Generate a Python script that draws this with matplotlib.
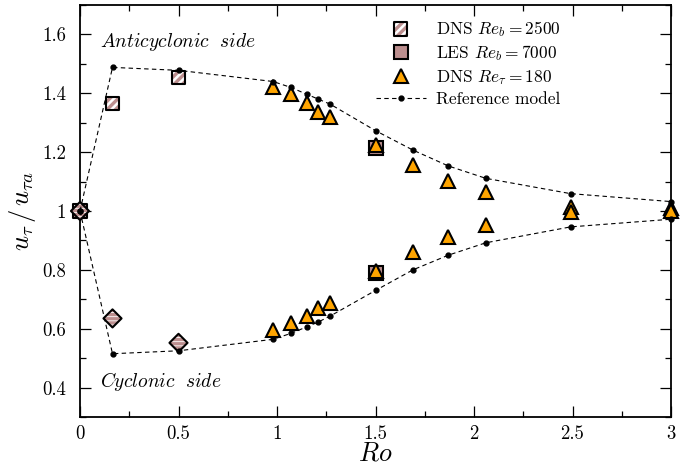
import matplotlib
matplotlib.use("Agg")
import matplotlib.pyplot as plt

plt.rcParams['font.family'] = 'serif'
plt.rcParams['font.serif'] = ['cmr10', 'DejaVu Serif']
plt.rcParams['mathtext.fontset'] = 'cm'
plt.rcParams['axes.formatter.use_mathtext'] = True
plt.rcParams['hatch.linewidth'] = 2.4

# Reference model
ref_ro = [0.0, 0.165, 0.5, 0.98, 1.07, 1.15, 1.21, 1.27, 1.5, 1.69, 1.87, 2.06, 2.49, 3.0]
ref_anti = [1.0, 1.488, 1.478, 1.44, 1.42, 1.397, 1.38, 1.363, 1.273, 1.207, 1.153, 1.111, 1.059, 1.032]
ref_cyc = [1.0, 0.515, 0.525, 0.564, 0.584, 0.606, 0.623, 0.643, 0.73, 0.80, 0.85, 0.892, 0.946, 0.972]

# DNS Re_b = 2500
dns2500_ro = [0.0, 0.165, 0.5]
dns2500_anti = [1.0, 1.366, 1.453]
dns2500_cyc = [1.0, 0.635, 0.552]

# LES Re_b = 7000
les_ro = [1.5, 1.5]
les_val = [1.213, 0.79]

# DNS Re_tau = 180
dns180_ro = [0.98, 1.07, 1.15, 1.21, 1.27, 1.5, 1.69, 1.87, 2.06, 2.49, 3.0,
             0.98, 1.07, 1.15, 1.21, 1.27, 1.5, 1.69, 1.87, 2.06, 2.49, 3.0]
dns180_val = [1.421, 1.397, 1.366, 1.338, 1.321, 1.224, 1.156, 1.103, 1.066, 1.015, 1.009,
              0.597, 0.62, 0.644, 0.67, 0.689, 0.795, 0.862, 0.913, 0.953, 0.998, 1.0]

rosy = '#BC8F8F'
orange = '#FFA500'

fig = plt.figure(figsize=(6.98, 4.65), dpi=100)
ax = fig.add_axes([80/698, 48/465, (671-80)/698, (417-5)/465])

# DNS 2500 hatched squares (anticyclonic) and diamonds (cyclonic)
h1 = ax.scatter(dns2500_ro, dns2500_anti, s=90, marker='s', facecolor='white',
                edgecolor=rosy, linewidth=0, hatch='////', zorder=3, clip_on=False)
h2 = ax.scatter(dns2500_ro, dns2500_anti, s=90, marker='s', facecolor='none',
                edgecolor='black', linewidth=1.5, zorder=3, clip_on=False)
ax.scatter(dns2500_ro, dns2500_cyc, s=85, marker='D', facecolor='white',
           edgecolor=rosy, linewidth=0, hatch='----', zorder=3, clip_on=False)
ax.scatter(dns2500_ro, dns2500_cyc, s=85, marker='D', facecolor='none',
           edgecolor='black', linewidth=1.5, zorder=3, clip_on=False)

# LES
les_line, = ax.plot(les_ro, les_val, ls='none', marker='s', ms=9.5, mfc=rosy,
                    mec='black', mew=1.5, zorder=4, clip_on=False)

# DNS 180
tri_line, = ax.plot(dns180_ro, dns180_val, ls='none', marker='^', ms=9.5, mfc=orange,
                    mec='black', mew=1.5, zorder=5, clip_on=False)

# Reference model
ref_line, = ax.plot(ref_ro, ref_anti, color='black', ls=(0, (4, 3)), lw=0.8,
                    marker='o', ms=3.5, zorder=6, clip_on=False)
ax.plot(ref_ro, ref_cyc, color='black', ls=(0, (4, 3)), lw=0.8,
        marker='o', ms=3.5, zorder=6, clip_on=False)

ax.text(0.10, 1.575, r'$\mathit{Anticyclonic\ \ side}$', fontsize=14, va='center', ha='left')
ax.text(0.10, 0.42, r'$\mathit{Cyclonic\ \ side}$', fontsize=14, va='center', ha='left')

ax.set_xlim(0, 3)
ax.set_ylim(0.3, 1.7)
ax.set_xticks([0, 0.5, 1, 1.5, 2, 2.5, 3])
ax.set_xticklabels(['0', '0.5', '1', '1.5', '2', '2.5', '3'])
ax.set_xticks([0.25, 0.75, 1.25, 1.75, 2.25, 2.75], minor=True)
ax.set_yticks([0.4, 0.6, 0.8, 1.0, 1.2, 1.4, 1.6])
ax.set_yticklabels(['0.4', '0.6', '0.8', '1', '1.2', '1.4', '1.6'])
ax.set_yticks([0.3, 0.5, 0.7, 0.9, 1.1, 1.3, 1.5, 1.7], minor=True)
ax.tick_params(which='both', direction='in', top=True, right=True, width=0.9)
ax.tick_params(which='major', length=8, labelsize=13.5)
ax.tick_params(axis='x', which='major', pad=6)
ax.tick_params(axis='y', which='major', pad=10)
ax.tick_params(which='minor', length=4)
for sp in ax.spines.values():
    sp.set_linewidth(1.3)

ax.set_xlabel(r'$Ro$', fontsize=19, labelpad=-1)
ax.set_ylabel(r'$u_\tau\,/\,u_{\tau a}$', fontsize=19, labelpad=3)

leg = ax.legend([(h1, h2), les_line, tri_line, ref_line],
                [r'DNS $Re_b = 2500$', r'LES $Re_b = 7000$', r'DNS $Re_\tau = 180$', 'Reference model'],
                loc='upper left', bbox_to_anchor=(0.50, 0.967), frameon=False,
                fontsize=12.5, handlelength=2.9, handletextpad=0.6, borderpad=0,
                borderaxespad=0, labelspacing=0.28)

fig.savefig('out.png', dpi=100)
